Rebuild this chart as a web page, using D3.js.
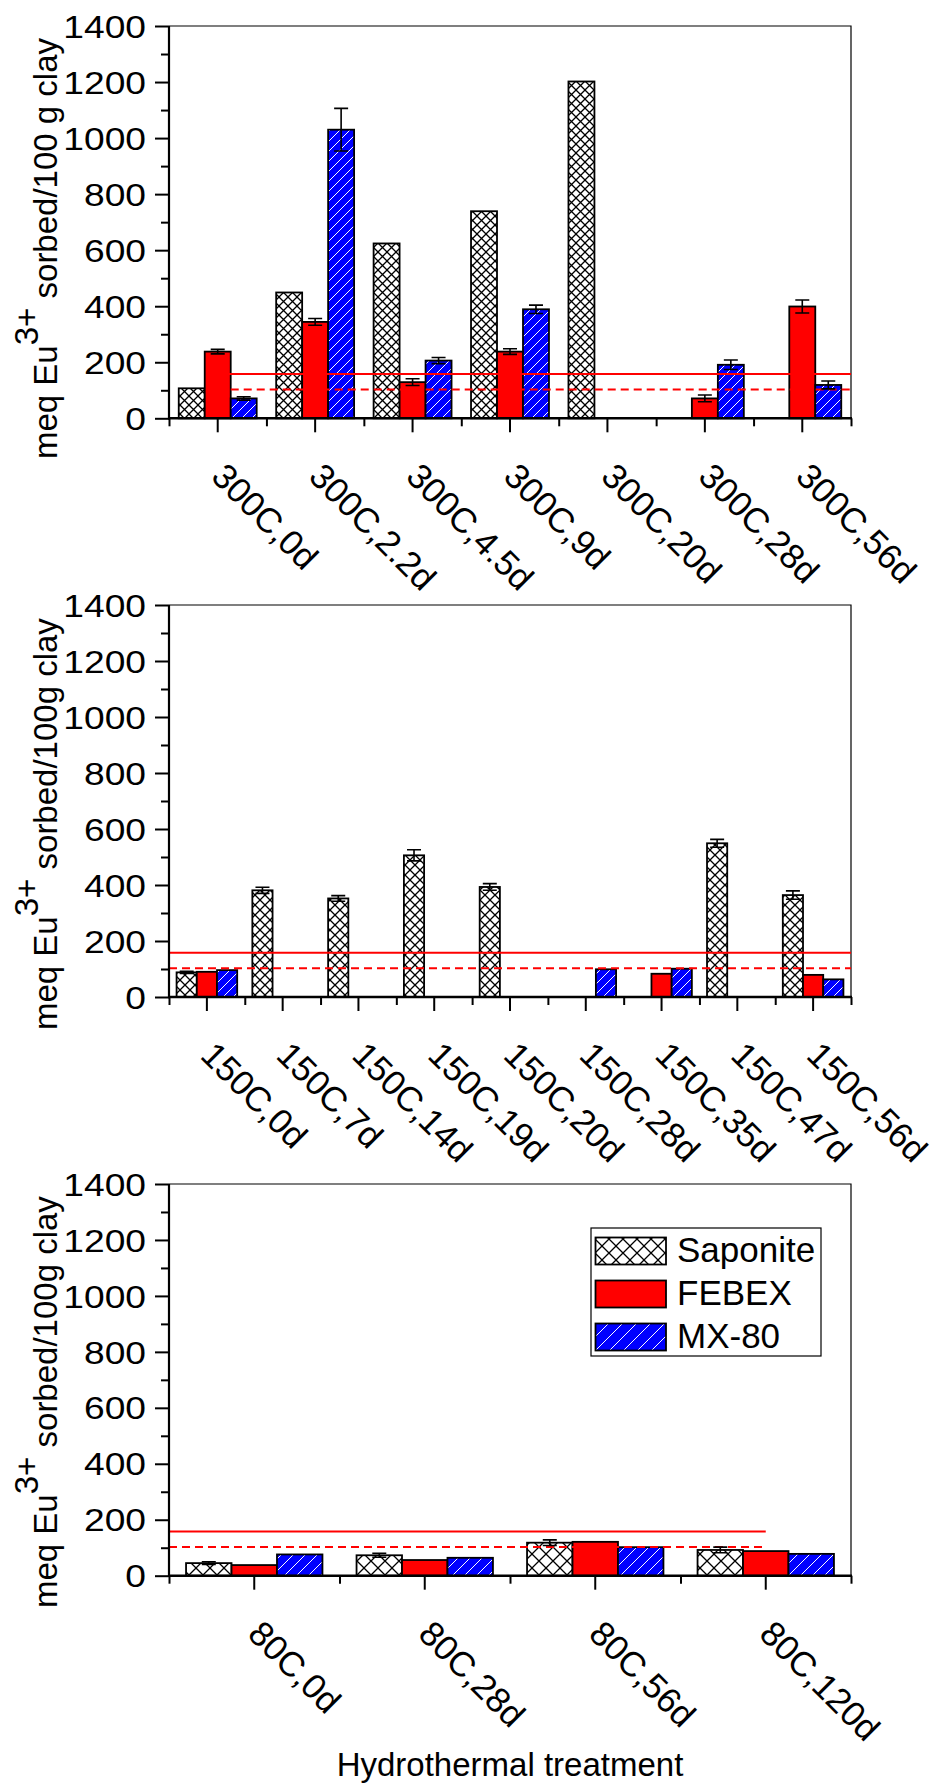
<!DOCTYPE html>
<html>
<head>
<meta charset="utf-8">
<script src="https://cdn.jsdelivr.net/npm/d3@7"></script>
<style>
  html, body { margin: 0; padding: 0; background: #fff; }
  svg { display: block; font-family: "Liberation Sans", Arial, sans-serif; }
</style>
</head>
<body>
<script>
// ---------------- DATA ----------------
const seriesNames = ["Saponite", "FEBEX", "MX-80"];
const yTicks = [0, 200, 400, 600, 800, 1000, 1200, 1400];

// 300 C
const cats300 = ["300C,0d", "300C,2.2d", "300C,4.5d", "300C,9d", "300C,20d", "300C,28d", "300C,56d"];
const sap300 = [107, 449, 624, 739, 1202, null, null];
const feb300 = [238, 344, 129, 238, null, 71, 399];
const mx300 = [71, 1030, 206, 389, null, 191, 119];
const sapErr300 = [null, null, null, null, null, null, null];
const febErr300 = [8, 12, 12, 10, null, 12, 23];
const mxErr300 = [6, 76, 11, 15, null, 17, 14];

// 150 C
const cats150 = ["150C,0d", "150C,7d", "150C,14d", "150C,19d", "150C,20d", "150C,28d", "150C,35d", "150C,47d", "150C,56d"];
const sap150 = [88, 381, 352, 506, 393, null, null, 549, 364];
const feb150 = [90, null, null, null, null, null, 83, null, 79];
const mx150 = [96, null, null, null, null, 99, 101, null, 63];
const sapErr150 = [4, 11, 10, 20, 12, null, null, 14, 15];
const febErr150 = [null, null, null, null, null, null, null, null, null];
const mxErr150 = [null, null, null, null, null, null, null, null, null];

// 80 C
const cats80 = ["80C,0d", "80C,28d", "80C,56d", "80C,120d"];
const sap80 = [45, 73, 118, 92];
const feb80 = [38, 56, 121, 88];
const mx80 = [76, 64, 102, 78];
const sapErr80 = [5, 7, 10, 10];
const febErr80 = [null, null, null, null];
const mxErr80 = [null, null, null, null];

// reference levels (solid and dashed red lines)
const refSolid = 158;
const refDashed = 103;

// ---------------- LAYOUT ----------------
const W = 935, H = 1783;
const X0 = 169, X1 = 851;
const FONT = '"Liberation Sans", Arial, sans-serif';

const panels = [
  { cats: cats300, vals: [sap300, feb300, mx300], errs: [sapErr300, febErr300, mxErr300],
    top: 26, bottom: 418.3, ytitle: "sorbed/100 g clay", titleBottom: 459,
    lineExt: [0.5, 7], sapPat: 9, mxPat: 10 },
  { cats: cats150, vals: [sap150, feb150, mx150], errs: [sapErr150, febErr150, mxErr150],
    top: 605, bottom: 997, ytitle: "sorbed/100g clay", titleBottom: 1030,
    lineExt: [0, 9], sapPat: 10, mxPat: 10 },
  { cats: cats80, vals: [sap80, feb80, mx80], errs: [sapErr80, febErr80, mxErr80],
    top: 1184, bottom: 1575.7, ytitle: "sorbed/100g clay", titleBottom: 1608,
    lineExt: [0, 3.5], sapPat: 14, mxPat: 12 }
];

const svg = d3.select("body").append("svg")
  .attr("width", W).attr("height", H)
  .attr("viewBox", `0 0 ${W} ${H}`);

svg.append("rect").attr("width", W).attr("height", H).attr("fill", "#fff");

const defs = svg.append("defs");
function crossPattern(id, s) {
  const p = defs.append("pattern").attr("id", id).attr("patternUnits", "userSpaceOnUse")
    .attr("width", s).attr("height", s);
  p.append("rect").attr("width", s).attr("height", s).attr("fill", "#fff");
  p.append("path").attr("d", `M0,0L${s},${s}M${s},0L0,${s}`)
    .attr("stroke", "#000").attr("stroke-width", 1.3).attr("fill", "none");
}
function hatchPattern(id, s) {
  const p = defs.append("pattern").attr("id", id).attr("patternUnits", "userSpaceOnUse")
    .attr("width", s).attr("height", s);
  p.append("rect").attr("width", s).attr("height", s).attr("fill", "#0000ff");
  p.append("path").attr("d", `M0,${s}L${s},0M-2,2L2,-2M${s - 2},${s + 2}L${s + 2},${s - 2}`)
    .attr("stroke", "#fff").attr("stroke-width", 1).attr("fill", "none");
}

const fills = (pi) => [`url(#cross${pi})`, "#ff0000", `url(#hatch${pi})`];

panels.forEach((P, pi) => {
  crossPattern(`cross${pi}`, P.sapPat);
  hatchPattern(`hatch${pi}`, P.mxPat);

  const g = svg.append("g");
  const n = P.cats.length;
  const y = d3.scaleLinear().domain([0, 1400]).range([P.bottom, P.top]);
  const x = d3.scaleBand().domain(P.cats).range([X0, X1]).paddingInner(0.2).paddingOuter(0.1);
  const xs = d3.scaleBand().domain(seriesNames).range([0, x.bandwidth()]);
  const xPos = d3.scaleLinear().domain([0, n]).range([X0, X1]);

  // frame (top & right thin)
  g.append("path").attr("d", `M${X0},${P.top}H${X1}V${P.bottom}`)
    .attr("fill", "none").attr("stroke", "#000").attr("stroke-width", 1.2);

  // bars
  seriesNames.forEach((s, si) => {
    const data = P.cats.map((c, i) => ({ c, v: P.vals[si][i], e: P.errs[si][i] }))
      .filter(d => d.v != null);
    g.append("g").selectAll("rect").data(data).join("rect")
      .attr("x", d => x(d.c) + xs(s))
      .attr("y", d => y(d.v))
      .attr("width", xs.bandwidth())
      .attr("height", d => y(0) - y(d.v))
      .attr("fill", fills(pi)[si])
      .attr("stroke", "#000").attr("stroke-width", 1.8);
  });

  // reference lines
  g.append("line")
    .attr("x1", xPos(P.lineExt[0])).attr("x2", xPos(P.lineExt[1]))
    .attr("y1", y(refSolid)).attr("y2", y(refSolid))
    .attr("stroke", "#ff0000").attr("stroke-width", 2);
  g.append("line")
    .attr("x1", xPos(P.lineExt[0])).attr("x2", xPos(P.lineExt[1]))
    .attr("y1", y(refDashed)).attr("y2", y(refDashed))
    .attr("stroke", "#ff0000").attr("stroke-width", 2)
    .attr("stroke-dasharray", "8,5");

  // error bars
  seriesNames.forEach((s, si) => {
    const data = P.cats.map((c, i) => ({ c, v: P.vals[si][i], e: P.errs[si][i] }))
      .filter(d => d.v != null && d.e != null);
    const eg = g.append("g").attr("stroke", "#000").attr("stroke-width", 1.6).attr("fill", "none");
    eg.selectAll("path").data(data).join("path")
      .attr("d", d => {
        const cx = x(d.c) + xs(s) + xs.bandwidth() / 2;
        const hw = 7;
        const y1 = y(d.v + d.e), y2 = y(d.v - d.e);
        return `M${cx},${y1}V${y2}M${cx - hw},${y1}H${cx + hw}M${cx - hw},${y2}H${cx + hw}`;
      });
  });

  // y axis
  const yAxis = g.append("g").attr("transform", `translate(${X0},0)`)
    .call(d3.axisLeft(y).tickValues(yTicks).tickSize(14).tickFormat(d3.format("d")));
  yAxis.select(".domain").remove();
  yAxis.selectAll(".tick line").attr("stroke", "#000").attr("stroke-width", 2);
  yAxis.selectAll(".tick text")
    .attr("x", -23 / 1.2).attr("dy", "0.36em")
    .attr("transform", "scale(1.2,1)")
    .attr("font-size", 31).attr("font-family", FONT).attr("fill", "#000");
  const yMinor = g.append("g").attr("transform", `translate(${X0},0)`)
    .call(d3.axisLeft(y).tickValues(d3.range(100, 1400, 200)).tickSize(8).tickFormat(""));
  yMinor.select(".domain").remove();
  yMinor.selectAll(".tick line").attr("stroke", "#000").attr("stroke-width", 2);
  g.append("line").attr("x1", X0).attr("x2", X0).attr("y1", P.top).attr("y2", P.bottom + 1)
    .attr("stroke", "#000").attr("stroke-width", 2.2);

  // x axis
  const xAxis = g.append("g").attr("transform", `translate(0,${P.bottom})`)
    .call(d3.axisBottom(x).tickSize(14).tickSizeOuter(0));
  xAxis.select(".domain").remove();
  xAxis.selectAll(".tick line").attr("stroke", "#000").attr("stroke-width", 2);
  xAxis.selectAll(".tick text")
    .attr("x", 0).attr("y", 0).attr("dy", 0)
    .attr("text-anchor", "start")
    .attr("transform", "translate(-8,60) rotate(45)")
    .attr("font-size", 35).attr("font-family", FONT).attr("fill", "#000");
  const xMinor = g.append("g").attr("transform", `translate(0,${P.bottom})`)
    .call(d3.axisBottom(xPos).tickValues(d3.range(n + 1)).tickSize(8).tickFormat(""));
  xMinor.select(".domain").remove();
  xMinor.selectAll(".tick line").attr("stroke", "#000").attr("stroke-width", 2);
  g.append("line").attr("x1", X0 - 1).attr("x2", X1 + 1).attr("y1", P.bottom).attr("y2", P.bottom)
    .attr("stroke", "#000").attr("stroke-width", 2.5);

  // y title
  const t = g.append("text")
    .attr("transform", `translate(57,${P.titleBottom}) rotate(-90)`)
    .attr("font-size", 33).attr("font-family", FONT).attr("fill", "#000");
  t.append("tspan").text("meq Eu");
  t.append("tspan").attr("dy", -19).text("3+");
  t.append("tspan").attr("dy", 19).text(" " + P.ytitle);
});

// legend (bottom panel)
const lg = svg.append("g");
lg.append("rect").attr("x", 591).attr("y", 1228).attr("width", 230).attr("height", 128)
  .attr("fill", "#fff").attr("stroke", "#000").attr("stroke-width", 1.2);
crossPattern("crossL", 14);
hatchPattern("hatchL", 14);
const legFills = ["url(#crossL)", "#ff0000", "url(#hatchL)"];
seriesNames.forEach((s, i) => {
  const yy = 1237.5 + i * 43;
  lg.append("rect").attr("x", 595.5).attr("y", yy).attr("width", 70.5).attr("height", 27)
    .attr("fill", legFills[i]).attr("stroke", "#000").attr("stroke-width", 1.8);
  lg.append("text").attr("x", 677).attr("y", yy + 24.5)
    .attr("font-size", 35).attr("font-family", FONT).attr("fill", "#000").text(s);
});

// x title
svg.append("text").attr("x", 510).attr("y", 1776).attr("text-anchor", "middle")
  .attr("font-size", 33).attr("font-family", FONT).attr("fill", "#000")
  .text("Hydrothermal treatment");
</script>
</body>
</html>
